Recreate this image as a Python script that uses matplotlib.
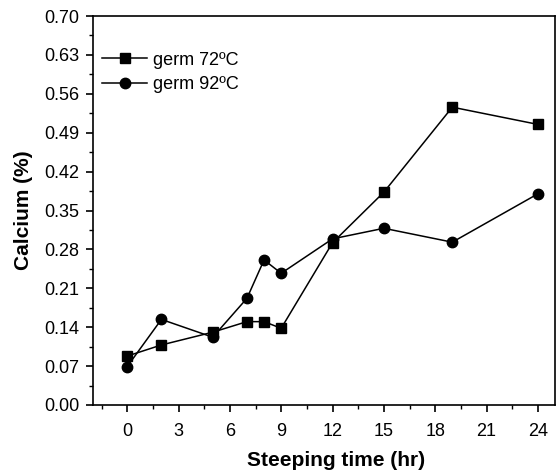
import matplotlib.pyplot as plt
from matplotlib.ticker import MultipleLocator

plt.rcParams["font.family"] = ["Liberation Sans", "DejaVu Sans"]

hours = [0, 2, 5, 7, 8, 9, 12, 15, 19, 24]
germ_72 = [0.088, 0.108, 0.131, 0.150, 0.150, 0.138, 0.292, 0.383, 0.536, 0.505]
germ_92 = [0.069, 0.154, 0.122, 0.192, 0.261, 0.237, 0.299, 0.318, 0.293, 0.380]

fig = plt.figure(figsize=(5.6, 4.72), dpi=100)
ax = fig.add_axes([0.166, 0.142, 0.825, 0.824])

ax.plot(
    hours, germ_72,
    color="black", linewidth=1.1,
    marker="s", markersize=6.5,
    label="germ 72ºC",
)
ax.plot(
    hours, germ_92,
    color="black", linewidth=1.1,
    marker="o", markersize=7.5,
    label="germ 92ºC",
)

ax.set_xlim(-2, 25)
ax.set_ylim(0, 0.70)
ax.xaxis.set_major_locator(MultipleLocator(3))
ax.xaxis.set_minor_locator(MultipleLocator(1.5))
ax.yaxis.set_major_locator(MultipleLocator(0.07))
ax.yaxis.set_minor_locator(MultipleLocator(0.035))
ax.set_xticks(range(0, 25, 3))
ax.yaxis.set_major_formatter(lambda v, p: f"{v:.2f}")

ax.tick_params(
    which="major", direction="out", length=5, width=1.2,
    labelsize=13, top=False, right=False, pad=5,
)
ax.tick_params(axis="x", which="major", pad=8)
ax.tick_params(which="minor", direction="out", length=3, width=1, top=False, right=False)
for s in ax.spines.values():
    s.set_linewidth(1.2)

ax.set_xlabel("Steeping time (hr)", fontsize=15, fontweight="bold", labelpad=8)
ax.xaxis.label.set_x(0.527)
ax.set_ylabel("Calcium (%)", fontsize=15, fontweight="bold", labelpad=8)

ax.legend(
    loc="upper left",
    bbox_to_anchor=(-0.015, 0.95),
    frameon=False,
    fontsize=13,
    handlelength=2.5,
    handletextpad=0.3,
    labelspacing=0.4,
)

fig.savefig("out.png", dpi=100)
